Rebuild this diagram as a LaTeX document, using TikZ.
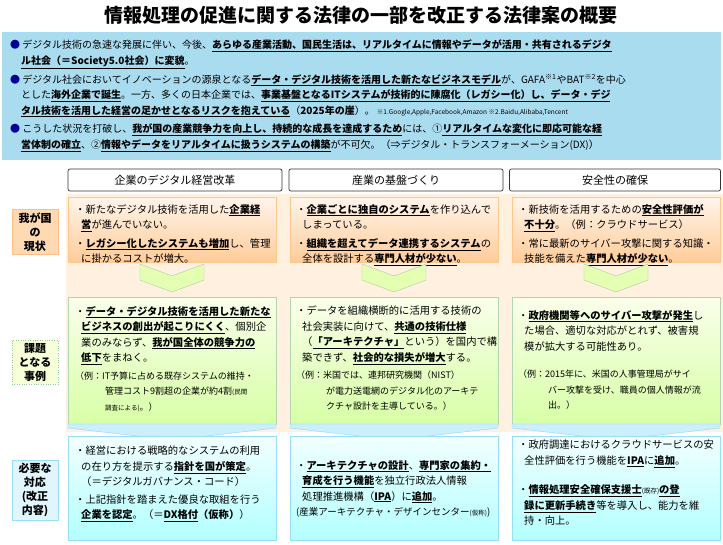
\documentclass[tikz,border=0pt]{standalone}
\usepackage{fontspec}
\setmainfont{Noto Sans CJK JP}
\definecolor{skyb}{RGB}{170,220,240}
\newcommand\bu[1]{\underline{\textbf{#1}}}
\newcommand\sm[1]{{\fontsize{6.5}{8}\selectfont #1}}
\begin{document}
\begin{tikzpicture}[x=1pt,y=-1pt,
  txt/.style={anchor=north west,align=left,inner sep=0pt,font=\fontsize{10.3}{15.5}\selectfont},
  hdr/.style={draw=black!80,rounded corners=2pt,fill=white,minimum height=22pt,font=\fontsize{11}{13}\selectfont,line width=0.7pt},
  obox/.style={draw=orange!45,top color=orange!8,bottom color=orange!40},
  gbox/.style={draw=green!45!black!30,top color=green!25!yellow!8,bottom color=green!45!yellow!35},
  bbox/.style={draw=cyan!40,top color=cyan!5,bottom color=cyan!30},
  lab/.style={align=center,font=\fontsize{11}{14}\selectfont\bfseries,inner sep=3pt,minimum width=46pt},
]
\useasboundingbox (0,0) rectangle (723,544);
\node[font=\fontsize{19}{22}\selectfont\bfseries] (title) at (361,15) {情報処理の促進に関する法律の一部を改正する法律案の概要};
\fill[skyb] (2,32) rectangle (721,160);
\node[txt,font=\fontsize{10}{15.5}\selectfont] (b1) at (10,40) {\textcolor{blue!60!black}{●} デジタル技術の急速な発展に伴い、今後、\bu{あらゆる産業活動、国民生活は、リアルタイムに情報やデータが活用・共有されるデジタ}\\
\hspace{11pt}\bu{ル社会（＝Society5.0社会）に変貌}。};
\node[txt,font=\fontsize{10}{15.5}\selectfont] (b2) at (10,74) {\textcolor{blue!60!black}{●} デジタル社会においてイノベーションの源泉となる\bu{データ・デジタル技術を活用した新たなビジネスモデル}が、GAFA\textsuperscript{※1}やBAT\textsuperscript{※2}を中心\\
\hspace{11pt}とした\bu{海外企業で誕生}。一方、多くの日本企業では、\bu{事業基盤となるITシステムが技術的に陳腐化（レガシー化）し、データ・デジ}\\
\hspace{11pt}\bu{タル技術を活用した経営の足かせとなるリスクを抱えている}（\textbf{2025年の崖}）。 \sm{※1.Google,Apple,Facebook,Amazon ※2.Baidu,Alibaba,Tencent}};
\node[txt,font=\fontsize{10}{15.5}\selectfont] (b3) at (10,124) {\textcolor{blue!60!black}{●} こうした状況を打破し、\bu{我が国の産業競争力を向上し、持続的な成長を達成するため}には、①\bu{リアルタイムな変化に即応可能な経}\\
\hspace{11pt}\bu{営体制の確立}、②\bu{情報やデータをリアルタイムに扱うシステムの構築}が不可欠。（⇒デジタル・トランスフォーメーション(DX)）};
% headers
\node[hdr,minimum width=214pt] (h1) at (175,180) {企業のデジタル経営改革};
\node[hdr,minimum width=214pt] (h2) at (396,180) {産業の基盤づくり};
\node[hdr,minimum width=211pt] (h3) at (615,180) {安全性の確保};
% band
\fill[orange!12] (66,194) rectangle (723,432);
% row1
\foreach \x/\n in {68/1,290/2,512/3}{\draw[obox] (\x,197) rectangle ++(208,65);}
\node[txt] (r1a) at (75,204) {・新たなデジタル技術を活用した\bu{企業経}\\\hspace{6pt}\bu{営}が進んでいない。\\[3pt]・\bu{レガシー化したシステムも増加}し、管理\\\hspace{6pt}に掛かるコストが増大。};
\node[txt] (r1b) at (296,204) {・\bu{企業ごとに独自のシステム}を作り込んで\\\hspace{6pt}しまっている。\\[3pt]・\bu{組織を超えてデータ連携するシステム}の\\\hspace{6pt}全体を設計する\bu{専門人材が少ない}。};
\node[txt] (r1c) at (518,204) {・新技術を活用するための\bu{安全性評価が}\\\hspace{6pt}\bu{不十分}。（例：クラウドサービス）\\[3pt]・常に最新のサイバー攻撃に関する知識・\\\hspace{6pt}技能を備えた\bu{専門人材が少ない}。};
% green chevrons
\foreach \c in {172,394,616}{\draw[green!45!black!35,fill=green!35!yellow!30] (\c-32,264)--(\c,276)--(\c+32,264)--(\c+32,280)--(\c,292)--(\c-32,280)--cycle;}
% row2
\foreach \x in {68,290,512}{\draw[gbox] (\x,297) rectangle ++(208,127);}
\node[txt] (r2a) at (75,306) {・\bu{データ・デジタル技術を活用した新たな}\\\hspace{6pt}\bu{ビジネスの創出が起こりにくく}、個別企\\\hspace{6pt}業のみならず、\bu{我が国全体の競争力の}\\\hspace{6pt}\bu{低下}をまねく。\\[2pt]{\fontsize{9}{13}\selectfont （例：IT予算に占める既存システムの維持・}\\{\fontsize{9}{13}\selectfont \hspace{30pt}管理コスト9割超の企業が約4割\sm{(民間}}\\{\fontsize{9}{13}\selectfont \hspace{30pt}\sm{調査による)}。）}};
\node[txt] (r2b) at (296,306) {・データを組織横断的に活用する技術の\\\hspace{6pt}社会実装に向けて、\bu{共通の技術仕様}\\\hspace{6pt}（\bu{「アーキテクチャ」}という）を国内で構\\\hspace{6pt}築できず、\bu{社会的な損失が増大}する。\\[2pt]{\fontsize{9}{13}\selectfont （例：米国では、連邦研究機関（NIST）}\\{\fontsize{9}{13}\selectfont \hspace{30pt}が電力送電網のデジタル化のアーキテ}\\{\fontsize{9}{13}\selectfont \hspace{30pt}クチャ設計を主導している。）}};
\node[txt] (r2c) at (518,310) {・\bu{政府機関等へのサイバー攻撃が発生}し\\\hspace{6pt}た場合、適切な対応がとれず、被害規\\\hspace{6pt}模が拡大する可能性あり。\\[12pt]{\fontsize{9}{13}\selectfont （例：2015年に、米国の人事管理局がサイ}\\{\fontsize{9}{13}\selectfont \hspace{30pt}バー攻撃を受け、職員の個人情報が流}\\{\fontsize{9}{13}\selectfont \hspace{30pt}出。）}};
% blue chevrons
\foreach \x in {68,290,512}{\draw[cyan!45,fill=cyan!20] (\x,424)--(\x+208,424)--(\x+208,428)--(\x+104,440)--(\x,428)--cycle;}
% row3
\foreach \x in {68,290,512}{\draw[bbox] (\x,436) rectangle ++(208,104);}
\node[txt] (r3a) at (75,446) {・経営における戦略的なシステムの利用\\\hspace{6pt}の在り方を提示する\bu{指針を国が策定}。\\\hspace{6pt}（＝デジタルガバナンス・コード）\\[2pt]・上記指針を踏まえた優良な取組を行う\\\hspace{6pt}\bu{企業を認定}。（＝\bu{DX格付}\textbf{（仮称）}）};
\node[txt] (r3b) at (296,460) {・\bu{アーキテクチャの設計}、\bu{専門家の集約・}\\\hspace{6pt}\bu{育成を行う機能}を独立行政法人情報\\\hspace{6pt}処理推進機構（\bu{IPA}）に\bu{追加}。\\{\fontsize{9.5}{14}\selectfont (産業アーキテクチャ・デザインセンター\sm{(仮称)})}};
\node[txt] (r3c) at (518,440) {・政府調達におけるクラウドサービスの安\\\hspace{6pt}全性評価を行う機能を\bu{IPA}に\bu{追加}。\\[14pt]・\bu{情報処理安全確保支援士}\sm{(既存)}\bu{の登}\\\hspace{6pt}\bu{録に更新手続き}等を導入し、能力を維\\\hspace{6pt}持・向上。};
% left labels
\node[lab,draw=orange!50,fill=orange!30] (l1) at (35,232) {我が国\\の\\現状};
\node[lab,draw=green!50!black!40,dotted,fill=green!20!yellow!15] (l2) at (35,362) {課題\\となる\\事例};
\node[lab,draw=cyan!40,fill=cyan!12] (l3) at (35,490) {必要な\\対応\\(改正\\内容)};
\end{tikzpicture}
\end{document}
